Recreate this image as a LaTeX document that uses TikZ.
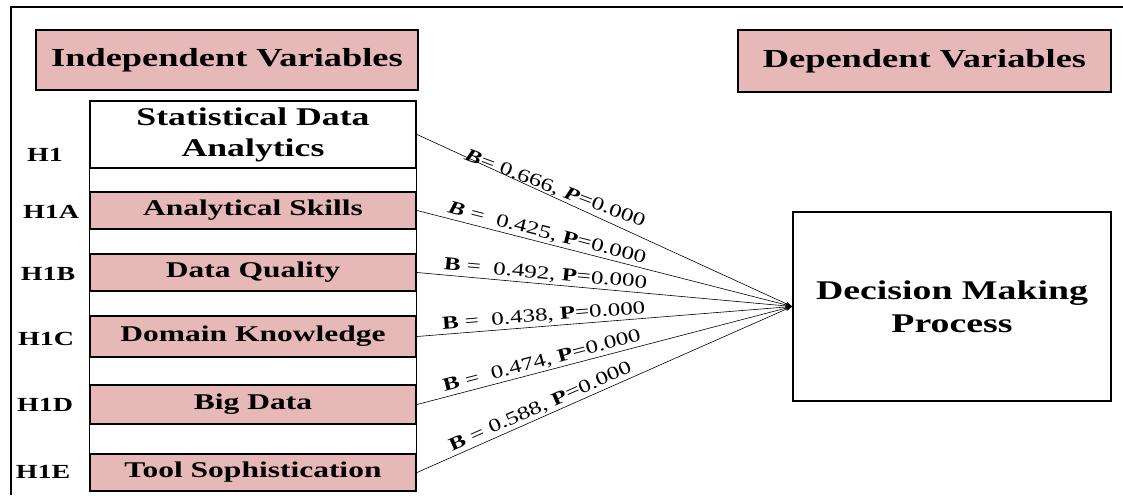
\documentclass[tikz,border=0pt]{standalone}
\usepackage{fontspec}
\setmainfont{Liberation Serif}[FakeStretch=1.4]
\newfontfamily\lblfont{Liberation Serif}[FakeStretch=1.35]
\usetikzlibrary{arrows.meta}
\definecolor{varpink}{HTML}{E6B8B7}

\begin{document}
\begin{tikzpicture}[x=1pt,y=-1pt,
  head/.style={draw,line width=1.6pt,fill=varpink,inner sep=0pt,font=\bfseries\fontsize{26}{30}\selectfont},
  var/.style={draw,line width=2pt,fill=varpink,minimum width=326pt,inner sep=0pt,font=\bfseries\fontsize{22.5}{26}\selectfont},
  hyp/.style={font=\bfseries\fontsize{20}{22}\selectfont},
  link/.style={line width=0.6pt,-{Stealth[length=7pt,width=4pt]}},
  lbl/.style={sloped,above=1pt,pos=0.34,inner sep=1pt,font=\lblfont\fontsize{18.5}{20}\selectfont}]
\useasboundingbox (0,0) rectangle (1123,495);
\draw[line width=1.5pt] (11,495) -- (11,7) -- (1123,7);

\node[head,minimum width=382pt,minimum height=60pt] (indep) at (227,60) {Independent Variables};
\node[head,minimum width=373pt,minimum height=62pt] (dep) at (924.5,61) {Dependent Variables};

\draw[line width=1pt,fill=white] (89,101) rectangle (416,491);
\node[var,fill=white,minimum height=67pt,align=center,font=\bfseries\fontsize{25.5}{31}\selectfont] (sda) at (253,134.5) {Statistical Data\\Analytics};
\node[var,minimum height=37pt] (skills) at (253,210.5) {Analytical Skills};
\node[var,minimum height=37pt] (quality) at (253,272.5) {Data Quality};
\node[var,minimum height=41pt] (domain) at (253,336.5) {Domain Knowledge};
\node[var,minimum height=39pt] (bigdata) at (253,404.5) {Big Data};
\node[var,minimum height=37pt] (tools) at (253,472.5) {Tool Sophistication};

\node[hyp] (h1) at (45,155) {H1};
\node[hyp] (h1a) at (51,212) {H1A};
\node[hyp] (h1b) at (48,274) {H1B};
\node[hyp] (h1c) at (46,339) {H1C};
\node[hyp] (h1d) at (45,405) {H1D};
\node[hyp] (h1e) at (43,472) {H1E};

\node[draw,line width=1.6pt,minimum width=318pt,minimum height=189pt,align=center,font=\bfseries\fontsize{27}{33}\selectfont] (dmp) at (952,306.5) {Decision Making\\Process};

\draw[link] (sda.east) -- node[lbl,rotate=4,above=-2pt,pos=0.36]{\textbf{\textit{B}}= 0.666, \textbf{\textit{P}}=0.000} (dmp.west);
\draw[link] (skills.east) -- node[lbl]{\textbf{\textit{B}} =\ \ 0.425, \textbf{P}=0.000} (dmp.west);
\draw[link] (quality.east) -- node[lbl]{\textbf{B} =\ \ 0.492, \textbf{P}=0.000} (dmp.west);
\draw[link] (domain.east) -- node[lbl]{\textbf{B} =\ \ 0.438, \textbf{P}=0.000} (dmp.west);
\draw[link] (bigdata.east) -- node[lbl]{\textbf{B} =\ \ 0.474, \textbf{P}=0.000} (dmp.west);
\draw[link] (tools.east) -- node[lbl]{\textbf{B} =\ 0.588, \textbf{P}=0.000} (dmp.west);
\end{tikzpicture}
\end{document}
